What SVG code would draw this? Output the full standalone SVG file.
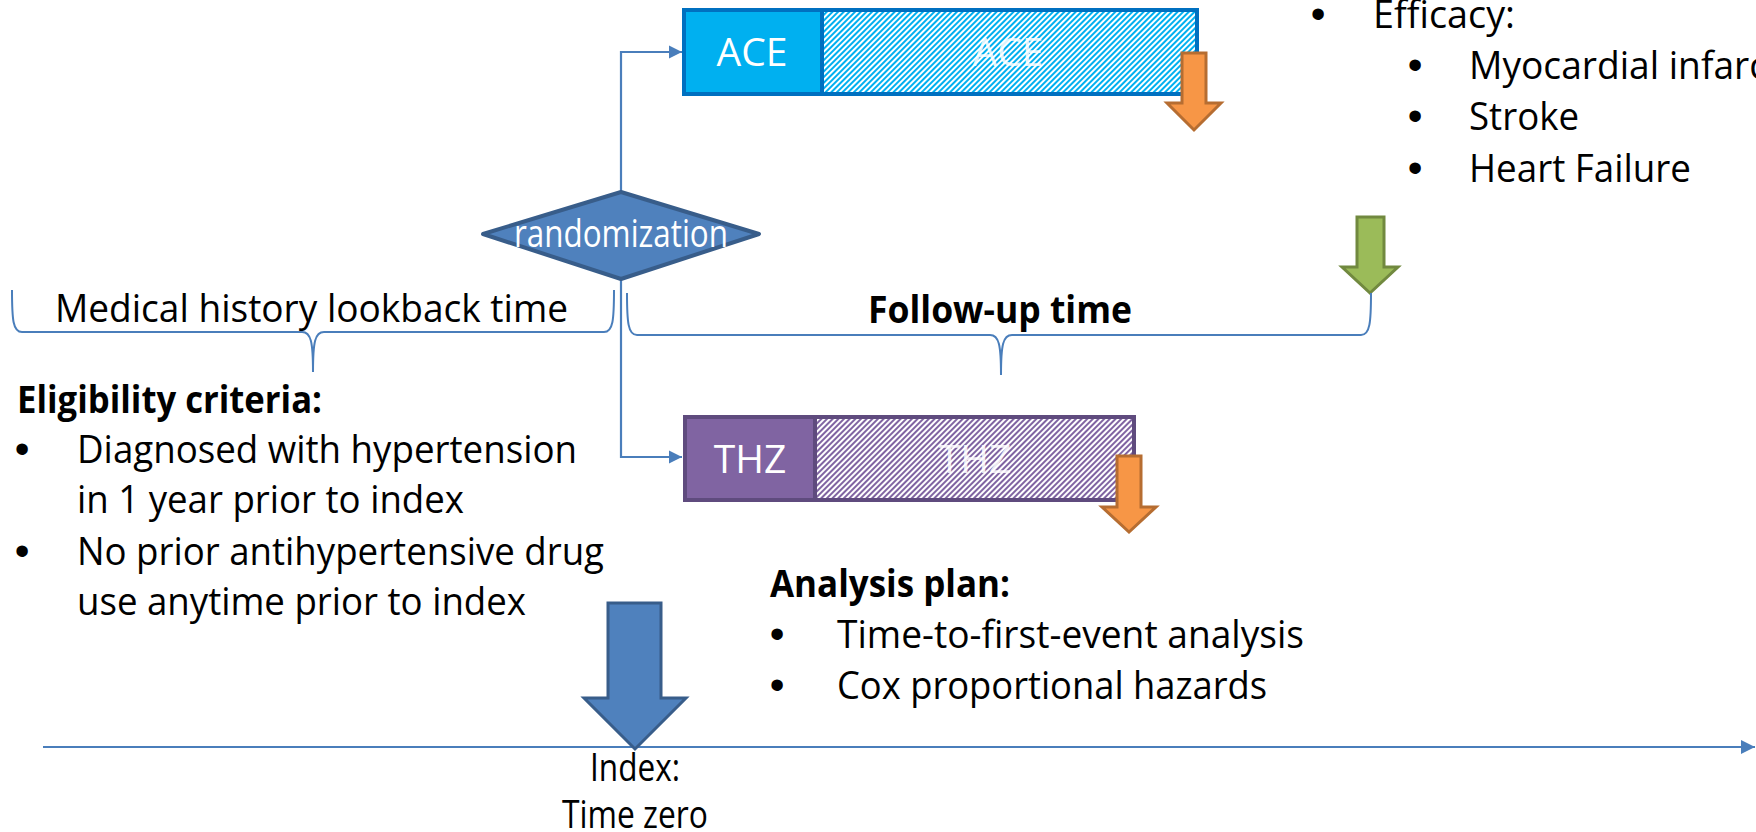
<svg xmlns="http://www.w3.org/2000/svg" width="1756" height="832" viewBox="0 0 1756 832">
<style>
.t{font-family:"Open Sans","Liberation Sans",sans-serif;font-size:38px;fill:#000}
.bul{font-family:"Liberation Sans","Open Sans",sans-serif;font-size:42px;fill:#000;text-anchor:middle}
.b{font-weight:bold}
.w{fill:#fff}
.wl{fill:#fff;fill-opacity:0.85}
.lbl{font-family:"Open Sans","Liberation Sans",sans-serif;font-size:39px;text-anchor:middle}
.conn{fill:none;stroke:#4A7EBB;stroke-width:2.2}
.brace{fill:none;stroke:#4A7EBB;stroke-width:2}
.orange{fill:#F79646;stroke:#B66D31;stroke-width:3;stroke-linejoin:miter}
.green{fill:#9BBB59;stroke:#71893F;stroke-width:3}
.bigblue{fill:#4F81BD;stroke:#385D8A;stroke-width:3}
</style>
<defs>
<pattern id="hatchBlue" patternUnits="userSpaceOnUse" width="4" height="10" patternTransform="rotate(45)">
<rect width="4" height="10" fill="#fff"/>
<rect width="2" height="10" fill="#00B0F0"/>
</pattern>
<pattern id="hatchPurple" patternUnits="userSpaceOnUse" width="4" height="10" patternTransform="rotate(45)">
<rect width="4" height="10" fill="#fff"/>
<rect width="2" height="10" fill="#8064A2"/>
</pattern>
<marker id="ah" viewBox="0 0 10 10" refX="10" refY="5" markerWidth="6" markerHeight="6" markerUnits="strokeWidth" orient="auto">
<path d="M0,0 L10,5 L0,10 Z" fill="#4A7EBB"/>
</marker>
<marker id="ahBig" viewBox="0 0 10 10" refX="10" refY="5" markerWidth="6.5" markerHeight="7" markerUnits="strokeWidth" orient="auto">
<path d="M0,0 L10,5 L0,10 Z" fill="#4A7EBB"/>
</marker>
</defs>
<rect width="1756" height="832" fill="#fff"/>

<g id="connectors">
<path class="conn" d="M621,192 L621,52 L682,52" marker-end="url(#ah)"/>
<path class="conn" d="M621,279 L621,457 L682,457" marker-end="url(#ah)"/>
<path class="conn" d="M43,747 L1755,747" stroke-width="2.6" marker-end="url(#ahBig)"/>
</g>

<g id="ace-arm">
<rect x="684" y="10" width="138" height="84" fill="#00B0F0" stroke="#0070C0" stroke-width="4"/>
<rect x="822" y="10" width="375" height="84" fill="url(#hatchBlue)" stroke="#0070C0" stroke-width="4"/>
<text class="lbl w" x="752" y="66">ACE</text>
<text class="lbl wl" x="1008" y="66">ACE</text>
</g>

<g id="thz-arm">
<rect x="685" y="417" width="130" height="83" fill="#8064A2" stroke="#5F4B7E" stroke-width="4"/>
<rect x="815" y="417" width="319" height="83" fill="url(#hatchPurple)" stroke="#5F4B7E" stroke-width="4"/>
<text class="lbl w" x="750" y="473">THZ</text>
<text class="lbl wl" x="975" y="473">THZ</text>
</g>

<g id="ace-event-arrow">
<polygon class="orange" points="1182,53 1206,53 1206,103 1221,103 1194,130 1167,103 1182,103"/>
</g>
<g id="thz-event-arrow">
<polygon class="orange" points="1117,456 1141,456 1141,507 1156,507 1129,532 1102,507 1117,507"/>
</g>

<g id="randomization">
<polygon points="483,234 621,192 759,234 621,279" fill="#4F81BD" stroke="#385D8A" stroke-width="4" stroke-linejoin="round"/>
<text class="t w" x="621" y="247" font-size="32" text-anchor="middle" textLength="214" lengthAdjust="spacingAndGlyphs">randomization</text>
</g>

<g id="efficacy">
<text class="bul" x="1318" y="28">•</text>
<text class="t" x="1373" y="28" textLength="142" lengthAdjust="spacingAndGlyphs">Efficacy:</text>
<text class="bul" x="1415" y="79">•</text>
<text class="t" x="1469" y="79" textLength="298" lengthAdjust="spacingAndGlyphs">Myocardial infarc</text>
<text class="bul" x="1415" y="130">•</text>
<text class="t" x="1469" y="130" textLength="110" lengthAdjust="spacingAndGlyphs">Stroke</text>
<text class="bul" x="1415" y="182">•</text>
<text class="t" x="1469" y="182" textLength="222" lengthAdjust="spacingAndGlyphs">Heart Failure</text>
</g>

<g id="end-of-followup-arrow">
<polygon class="green" points="1357,217 1384,217 1384,267 1398,267 1370,293 1342,267 1357,267"/>
</g>

<g id="lookback">
<path class="brace" d="M12,290 C12,320 13,332 22,332 L302,332 C311,332 313,342 313,372 C313,342 315,332 324,332 L604,332 C613,332 614,320 614,290"/>
<text class="t" x="55" y="322" textLength="513" lengthAdjust="spacingAndGlyphs">Medical history lookback time</text>
</g>

<g id="followup">
<path class="brace" d="M627,293 C627,322 628,335 637,335 L990,335 C999,335 1001,345 1001,375 C1001,345 1003,335 1012,335 L1361,335 C1370,335 1371,322 1371,293"/>
<text class="t b" x="868" y="323" textLength="264" lengthAdjust="spacingAndGlyphs">Follow-up time</text>
</g>

<g id="eligibility">
<text class="t b" x="17" y="413" textLength="305" lengthAdjust="spacingAndGlyphs">Eligibility criteria:</text>
<text class="bul" x="22" y="463">•</text>
<text class="t" x="77" y="463" textLength="500" lengthAdjust="spacingAndGlyphs">Diagnosed with hypertension</text>
<text class="t" x="77" y="513" textLength="387" lengthAdjust="spacingAndGlyphs">in 1 year prior to index</text>
<text class="bul" x="22" y="565">•</text>
<text class="t" x="77" y="565" textLength="527" lengthAdjust="spacingAndGlyphs">No prior antihypertensive drug</text>
<text class="t" x="77" y="615" textLength="449" lengthAdjust="spacingAndGlyphs">use anytime prior to index</text>
</g>

<g id="analysis">
<text class="t b" x="770" y="597" textLength="240" lengthAdjust="spacingAndGlyphs">Analysis plan:</text>
<text class="bul" x="777" y="648">•</text>
<text class="t" x="837" y="648" textLength="467" lengthAdjust="spacingAndGlyphs">Time-to-first-event analysis</text>
<text class="bul" x="777" y="699">•</text>
<text class="t" x="837" y="699" textLength="430" lengthAdjust="spacingAndGlyphs">Cox proportional hazards</text>
</g>

<g id="index">
<polygon class="bigblue" points="608,603 661,603 661,698 686,698 635,749 584,698 608,698"/>
<text class="t" x="635" y="781" font-size="30" text-anchor="middle" textLength="90" lengthAdjust="spacingAndGlyphs">Index:</text>
<text class="t" x="635" y="828" font-size="30" text-anchor="middle" textLength="146" lengthAdjust="spacingAndGlyphs">Time zero</text>
</g>
</svg>
